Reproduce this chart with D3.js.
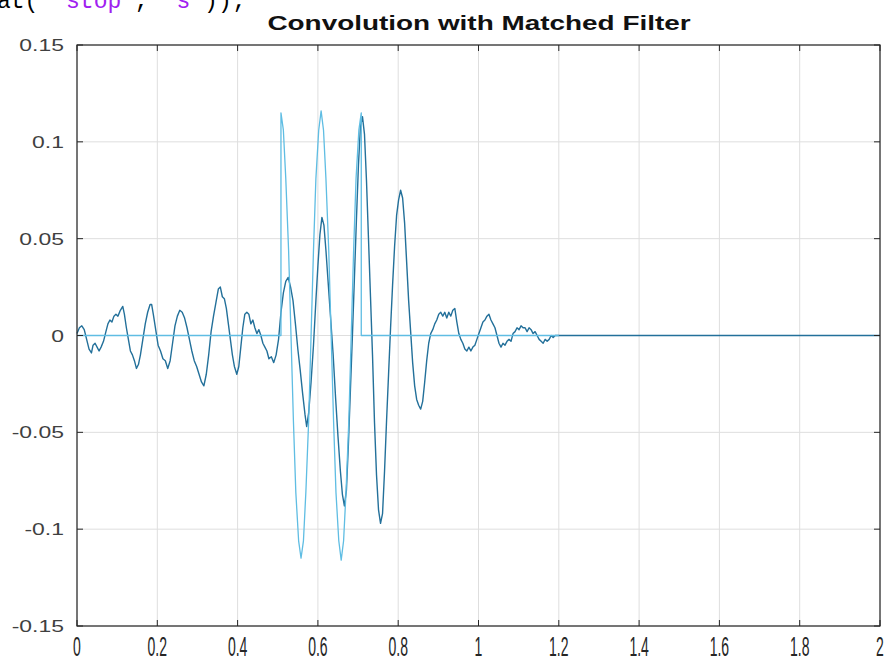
<!DOCTYPE html>
<html lang="en">
<head>
<meta charset="UTF-8">
<title>Convolution with Matched Filter</title>
<script src="https://cdn.jsdelivr.net/npm/d3@7"></script>
<style>
    body { margin: 0; background: #fff; }
    svg { display: block; }
</style>
</head>
<body>
<div id="chart"></div>
<script>
// tick values and labels
const xTicks = [0, 0.2, 0.4, 0.6, 0.8, 1, 1.2, 1.4, 1.6, 1.8, 2];
const xTickLabels = ['0', '0.2', '0.4', '0.6', '0.8', '1', '1.2', '1.4', '1.6', '1.8', '2'];
const yTicks = [-0.15, -0.1, -0.05, 0, 0.05, 0.1, 0.15];
const yTickLabels = ['-0.15', '-0.1', '-0.05', '0', '0.05', '0.1', '0.15'];

// matched filter output (noisy), [time, value]
const filtered = [
    [0.000, 0.001], [0.006, 0.004], [0.012, 0.005], [0.018, 0.003], [0.024, -0.002], [0.030, -0.007],
    [0.036, -0.009], [0.040, -0.005], [0.045, -0.004], [0.050, -0.006], [0.055, -0.008], [0.060, -0.006],
    [0.066, -0.003], [0.072, 0.002], [0.077, 0.006], [0.082, 0.008], [0.087, 0.007], [0.092, 0.010],
    [0.097, 0.011], [0.102, 0.010], [0.108, 0.013], [0.114, 0.015], [0.118, 0.011], [0.123, 0.004],
    [0.128, -0.002], [0.133, -0.008], [0.138, -0.010], [0.143, -0.013], [0.148, -0.017], [0.153, -0.015],
    [0.158, -0.010], [0.164, -0.002], [0.170, 0.006], [0.176, 0.012], [0.182, 0.016], [0.186, 0.016],
    [0.190, 0.011], [0.196, 0.003], [0.202, -0.005], [0.208, -0.008], [0.214, -0.012], [0.220, -0.013],
    [0.226, -0.017], [0.232, -0.013], [0.238, -0.004], [0.244, 0.005], [0.250, 0.010], [0.256, 0.013],
    [0.262, 0.012], [0.268, 0.009], [0.274, 0.004], [0.280, -0.002], [0.286, -0.008], [0.292, -0.013],
    [0.298, -0.016], [0.304, -0.020], [0.310, -0.024], [0.316, -0.026], [0.322, -0.020], [0.328, -0.010],
    [0.334, 0.002], [0.340, 0.010], [0.346, 0.017], [0.352, 0.024], [0.357, 0.025], [0.362, 0.020],
    [0.367, 0.019], [0.372, 0.014], [0.377, 0.006], [0.382, -0.002], [0.387, -0.010], [0.392, -0.016],
    [0.398, -0.020], [0.403, -0.016], [0.408, -0.006], [0.413, 0.004], [0.418, 0.011], [0.423, 0.012],
    [0.428, 0.011], [0.433, 0.006], [0.438, 0.008], [0.443, 0.004], [0.448, 0.001], [0.453, 0.003],
    [0.458, 0.000], [0.463, -0.004], [0.468, -0.006], [0.473, -0.008], [0.478, -0.012], [0.484, -0.011],
    [0.490, -0.014], [0.496, -0.010], [0.502, -0.002], [0.508, 0.012], [0.514, 0.022], [0.520, 0.028],
    [0.526, 0.030], [0.532, 0.025], [0.538, 0.018], [0.544, 0.006], [0.550, -0.007], [0.556, -0.018],
    [0.562, -0.030], [0.568, -0.041], [0.572, -0.047], [0.577, -0.040], [0.583, -0.024], [0.589, -0.005],
    [0.595, 0.018], [0.600, 0.036], [0.605, 0.052], [0.610, 0.061], [0.615, 0.057], [0.620, 0.044],
    [0.626, 0.026], [0.632, 0.008], [0.638, -0.010], [0.644, -0.032], [0.650, -0.052], [0.656, -0.070],
    [0.661, -0.082], [0.666, -0.088], [0.671, -0.080], [0.676, -0.056], [0.681, -0.028], [0.686, 0.000],
    [0.691, 0.030], [0.696, 0.060], [0.701, 0.088], [0.706, 0.108], [0.711, 0.113], [0.716, 0.104],
    [0.721, 0.080], [0.726, 0.050], [0.731, 0.020], [0.736, -0.010], [0.741, -0.045], [0.746, -0.072],
    [0.751, -0.090], [0.756, -0.097], [0.761, -0.092], [0.766, -0.070], [0.771, -0.044], [0.776, -0.020],
    [0.781, 0.004], [0.786, 0.026], [0.791, 0.046], [0.796, 0.062], [0.801, 0.070], [0.806, 0.075],
    [0.811, 0.071], [0.816, 0.058], [0.821, 0.038], [0.826, 0.018], [0.831, 0.002], [0.836, -0.014],
    [0.841, -0.026], [0.846, -0.033], [0.851, -0.036], [0.856, -0.038], [0.861, -0.034], [0.866, -0.024],
    [0.871, -0.013], [0.876, -0.004], [0.881, 0.001], [0.886, 0.003], [0.891, 0.006], [0.896, 0.008],
    [0.901, 0.011], [0.906, 0.012], [0.911, 0.010], [0.916, 0.012], [0.921, 0.009], [0.926, 0.012],
    [0.931, 0.010], [0.936, 0.013], [0.941, 0.014], [0.946, 0.007], [0.951, 0.001], [0.956, -0.002],
    [0.961, -0.004], [0.966, -0.007], [0.971, -0.008], [0.976, -0.006], [0.981, -0.008], [0.986, -0.006],
    [0.991, -0.005], [0.996, -0.002], [1.001, 0.001], [1.006, 0.004], [1.011, 0.007], [1.016, 0.008],
    [1.021, 0.010], [1.026, 0.011], [1.031, 0.008], [1.036, 0.006], [1.041, 0.004], [1.046, 0.000],
    [1.051, -0.004], [1.056, -0.006], [1.061, -0.004], [1.066, -0.005], [1.071, -0.003], [1.076, -0.002],
    [1.081, -0.003], [1.086, 0.001], [1.091, 0.002], [1.096, 0.004], [1.101, 0.003], [1.106, 0.005],
    [1.111, 0.004], [1.116, 0.004], [1.121, 0.002], [1.126, 0.004], [1.131, 0.003], [1.136, 0.001],
    [1.141, 0.002], [1.146, 0.000], [1.151, -0.002], [1.156, -0.003], [1.161, -0.004], [1.166, -0.002],
    [1.171, -0.003], [1.176, -0.002], [1.181, 0.000], [1.186, -0.001], [1.191, 0.000], [1.196, 0.000],
    [2.000, 0.000]
];

// clean pulse (light curve), [time, value]
const pulse = [
    [0.000, 0], [0.508, 0], [0.508, 0.115], [0.514, 0.106], [0.520, 0.081], [0.527, 0.044],
    [0.533, 0], [0.539, -0.044], [0.545, -0.081], [0.552, -0.106], [0.558, -0.115], [0.564, -0.106],
    [0.570, -0.081], [0.577, -0.044], [0.583, 0], [0.589, 0.044], [0.595, 0.081], [0.602, 0.106],
    [0.608, 0.116], [0.614, 0.106], [0.620, 0.081], [0.627, 0.044], [0.633, 0], [0.639, -0.044],
    [0.645, -0.081], [0.652, -0.106], [0.658, -0.116], [0.664, -0.106], [0.670, -0.081], [0.677, -0.044],
    [0.683, 0], [0.689, 0.044], [0.695, 0.081], [0.702, 0.106], [0.708, 0.115], [0.708, 0],
    [1.200, 0]
];

const W = 893, H = 663;
const plotLeft = 77, plotRight = 880, plotTop = 45, plotBottom = 626;

const svg = d3.select('#chart').append('svg')
    .attr('width', W)
    .attr('height', H);

const x = d3.scaleLinear().domain([0, 2]).range([plotLeft, plotRight]);
const y = d3.scaleLinear().domain([-0.15, 0.15]).range([plotBottom, plotTop]);

// code line cut off at the top of the screenshot
const code = svg.append('text')
    .attr('x', -3)
    .attr('y', 8)
    .attr('font-family', 'Liberation Mono, monospace')
    .attr('font-size', 23)
    .attr('fill', '#000');
code.append('tspan').text("at( ");
code.append('tspan').attr('fill', '#a020f0').text("'stop'");
code.append('tspan').text(", ");
code.append('tspan').attr('fill', '#a020f0').text("'s'");
code.append('tspan').text("));");

// grid
svg.append('g')
    .selectAll('line')
    .data(xTicks)
    .join('line')
    .attr('x1', d => x(d)).attr('x2', d => x(d))
    .attr('y1', plotTop).attr('y2', plotBottom)
    .attr('stroke', '#dedede')
    .attr('stroke-width', 1);

svg.append('g')
    .selectAll('line')
    .data(yTicks)
    .join('line')
    .attr('x1', plotLeft).attr('x2', plotRight)
    .attr('y1', d => y(d)).attr('y2', d => y(d))
    .attr('stroke', '#dedede')
    .attr('stroke-width', 1);

// lines
const line = d3.line()
    .x(d => x(d[0]))
    .y(d => y(d[1]));

svg.append('path')
    .datum(filtered)
    .attr('d', line)
    .attr('fill', 'none')
    .attr('stroke', '#23709a')
    .attr('stroke-width', 1.4)
    .attr('stroke-linejoin', 'round');

svg.append('path')
    .datum(pulse)
    .attr('d', line)
    .attr('fill', 'none')
    .attr('stroke', '#5fbde3')
    .attr('stroke-width', 1.3)
    .attr('stroke-linejoin', 'round');

// box and ticks
svg.append('rect')
    .attr('x', plotLeft).attr('y', plotTop)
    .attr('width', plotRight - plotLeft).attr('height', plotBottom - plotTop)
    .attr('fill', 'none')
    .attr('stroke', '#262626')
    .attr('stroke-width', 1.2);

const tickLen = 6;
const ticks = svg.append('g').attr('stroke', '#262626').attr('stroke-width', 1);
xTicks.forEach(d => {
    ticks.append('line').attr('x1', x(d)).attr('x2', x(d)).attr('y1', plotBottom).attr('y2', plotBottom - tickLen);
    ticks.append('line').attr('x1', x(d)).attr('x2', x(d)).attr('y1', plotTop).attr('y2', plotTop + tickLen);
});
yTicks.forEach(d => {
    ticks.append('line').attr('x1', plotLeft).attr('x2', plotLeft + tickLen).attr('y1', y(d)).attr('y2', y(d));
    ticks.append('line').attr('x1', plotRight).attr('x2', plotRight - tickLen).attr('y1', y(d)).attr('y2', y(d));
});

// tick labels (the screenshot is stretched unevenly)
svg.append('g')
    .selectAll('text')
    .data(xTicks)
    .join('text')
    .attr('transform', d => `translate(${x(d)}, 656) scale(0.5, 1)`)
    .attr('text-anchor', 'middle')
    .attr('font-family', 'Liberation Sans, Arial, sans-serif')
    .attr('font-size', 28)
    .attr('fill', '#262626')
    .text((d, i) => xTickLabels[i]);

svg.append('g')
    .selectAll('text')
    .data(yTicks)
    .join('text')
    .attr('transform', d => `translate(64, ${y(d) + 6}) scale(1.35, 1)`)
    .attr('text-anchor', 'end')
    .attr('font-family', 'Liberation Sans, Arial, sans-serif')
    .attr('font-size', 17)
    .attr('fill', '#404040')
    .text((d, i) => yTickLabels[i]);

// title
svg.append('text')
    .attr('transform', `translate(479, 30) scale(1.33, 1)`)
    .attr('text-anchor', 'middle')
    .attr('font-family', 'Liberation Sans, Arial, sans-serif')
    .attr('font-weight', 'bold')
    .attr('font-size', 21)
    .attr('fill', '#111')
    .text('Convolution with Matched Filter');
</script>
</body>
</html>
